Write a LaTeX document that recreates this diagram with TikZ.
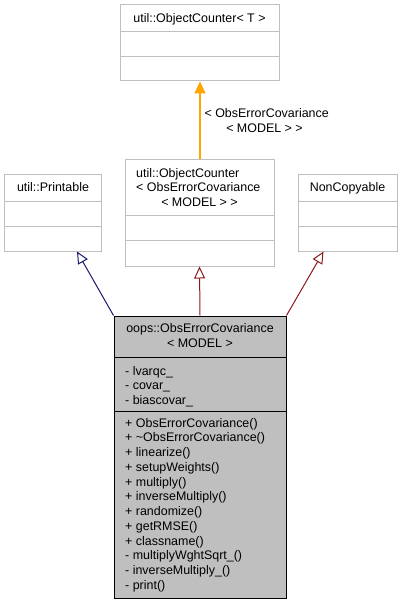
\documentclass[tikz,border=0pt]{standalone}
\usepackage{fontspec}
\setmainfont{Liberation Sans}
\usetikzlibrary{arrows.meta}
\definecolor{boxgray}{HTML}{BFBFBF}
\definecolor{pubblue}{HTML}{191970}
\definecolor{privred}{HTML}{8B1A1A}
\definecolor{tmplorange}{HTML}{FFA500}
\begin{document}
\begin{tikzpicture}[x=1bp,y=-1bp,
  umlbox/.style={draw=boxgray, line width=1bp, inner sep=0, fill=white},
  mainbox/.style={draw=black, line width=1bp, inner sep=0, fill=boxgray},
  txt/.style={inner sep=0, font=\fontsize{12.5}{14.7}\selectfont},
  divg/.style={draw=boxgray, line width=1bp},
  divb/.style={draw=black, line width=1bp},
  inh/.style={line width=1bp, -{Triangle[open, length=12bp, width=11bp]}},
  tmpl/.style={line width=1.6bp, draw=tmplorange, -{Triangle[length=12bp, width=11bp, fill=tmplorange]}}
]
\useasboundingbox (0,0) rectangle (403,604);
% boxes
\node[umlbox, minimum width=159bp, minimum height=76bp] (oct) at (199.5,43) {};
\node[umlbox, minimum width=96bp, minimum height=76bp] (prn) at (53,213) {};
\node[umlbox, minimum width=149bp, minimum height=106bp] (oco) at (199.5,213) {};
\node[umlbox, minimum width=99bp, minimum height=76bp] (ncp) at (347.5,213) {};
\node[mainbox, minimum width=172bp, minimum height=282bp] (main) at (200,457) {};
% dividers
\draw[divg] (oct.west |- 0,32) -- (oct.east |- 0,32);
\draw[divg] (oct.west |- 0,57) -- (oct.east |- 0,57);
\draw[divg] (prn.west |- 0,201) -- (prn.east |- 0,201);
\draw[divg] (prn.west |- 0,226) -- (prn.east |- 0,226);
\draw[divg] (oco.west |- 0,215) -- (oco.east |- 0,215);
\draw[divg] (oco.west |- 0,240) -- (oco.east |- 0,240);
\draw[divg] (ncp.west |- 0,201) -- (ncp.east |- 0,201);
\draw[divg] (ncp.west |- 0,226) -- (ncp.east |- 0,226);
\draw[divb] (main.west |- 0,357) -- (main.east |- 0,357);
\draw[divb] (main.west |- 0,411) -- (main.east |- 0,411);
% titles
\node[txt, anchor=base] (toct) at (199.5,22.8) {util::ObjectCounter< T >};
\node[txt, anchor=base] (tprn) at (53,191.2) {util::Printable};
\node[txt, anchor=base west] (toco1) at (136,177.5) {util::ObjectCounter};
\node[txt, anchor=base west] (toco2) at (136,191.2) {< ObsErrorCovariance};
\node[txt, anchor=base] (toco3) at (199.5,206.5) {< MODEL > >};
\node[txt, anchor=base] (tncp) at (347.5,191.2) {NonCopyable};
\node[txt, anchor=base] (tmain1) at (200,332.8) {oops::ObsErrorCovariance};
\node[txt, anchor=base] (tmain2) at (200,347.8) {< MODEL >};
% attributes
\node[txt, anchor=base west] (a1) at (125,375.2) {- lvarqc\_};
\node[txt, anchor=base west] (a2) at (125,389.9) {- covar\_};
\node[txt, anchor=base west] (a3) at (125,404.6) {- biascovar\_};
% methods
\foreach \t [count=\i] in {+ ObsErrorCovariance(), + \textasciitilde ObsErrorCovariance(), + linearize(), + setupWeights(), + multiply(), + inverseMultiply(), + randomize(), + getRMSE(), + classname(), - multiplyWghtSqrt\_(), - inverseMultiply\_(), - print()}
  \node[txt, anchor=base west] (m\i) at (125,{427.2+14.75*(\i-1)}) {\t};
% edges
\draw[tmpl] ([xshift=0.5bp]oco.north) -- ([xshift=0.5bp]oct.south);
\node[txt, anchor=base] (lab1) at (266.7,117.2) {< ObsErrorCovariance};
\node[txt, anchor=base] (lab2) at (264.5,132.5) {< MODEL > >};
\draw[inh, draw=pubblue] (main.north west) -- ([xshift=24bp]prn.south);
\draw[inh, draw=privred] (main.north) -- (oco.south);
\draw[inh, draw=privred] (main.north east) -- ([xshift=-24bp]ncp.south);
\end{tikzpicture}
\end{document}
